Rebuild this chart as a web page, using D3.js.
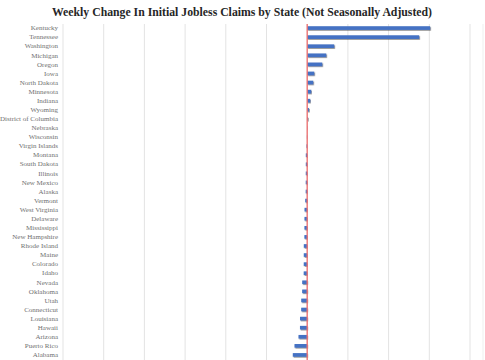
<!DOCTYPE html>
<html><head><meta charset="utf-8">
<script src="https://cdn.jsdelivr.net/npm/d3@7"></script>
<style>html,body{margin:0;padding:0;background:#fff;}svg{display:block;}</style>
</head><body>
<svg id="c" width="485" height="360"></svg>
<script>
const states = ["Kentucky","Tennessee","Washington","Michigan","Oregon","Iowa","North Dakota","Minnesota","Indiana","Wyoming","District of Columbia","Nebraska","Wisconsin","Virgin Islands","Montana","South Dakota","Illinois","New Mexico","Alaska","Vermont","West Virginia","Delaware","Mississippi","New Hampshire","Rhode Island","Maine","Colorado","Idaho","Nevada","Oklahoma","Utah","Connecticut","Louisiana","Hawaii","Arizona","Puerto Rico","Alabama"];
const changes = [30200,27500,6630,4670,3690,1720,1470,980,740,420,200,70,-70,-170,-340,-340,-350,-360,-370,-490,-660,-670,-680,-690,-835,-840,-850,-860,-1230,-1240,-1470,-1480,-1770,-1780,-2140,-3120,-3540];
const tickValues = [-60000,-50000,-40000,-30000,-20000,-10000,0,10000,20000,30000,40000];
const title = "Weekly Change In Initial Jobless Claims by State (Not Seasonally Adjusted)";

const svg = d3.select("#c");
const defs = svg.append("defs");
const f = defs.append("filter").attr("id","sh").attr("x","-20%").attr("y","-50%").attr("width","140%").attr("height","250%");
f.append("feDropShadow").attr("dx",0.8).attr("dy",0.8).attr("stdDeviation",0.5).attr("flood-color","#333").attr("flood-opacity",0.6);

const x = d3.scaleLinear().domain([-60000,40000]).range([63,470]);
const y = d3.scaleBand().domain(states).range([23.5, 23.5+37*9.08]).paddingInner(0.6).paddingOuter(0.3);

const plotTop = 24, plotBottom = 360;
svg.append("g").selectAll("line").data(tickValues).join("line")
  .attr("x1",d=>x(d)).attr("x2",d=>x(d)).attr("y1",plotTop).attr("y2",plotBottom)
  .attr("stroke","#e3e3e3").attr("stroke-width",1);
svg.append("line").attr("x1",483).attr("x2",483).attr("y1",plotTop).attr("y2",plotBottom).attr("stroke","#efefef");

svg.append("g").selectAll("rect").data(states).join("rect")
  .attr("x",(d,i)=>x(Math.min(0,changes[i])))
  .attr("width",(d,i)=>Math.max(0.3,Math.abs(x(changes[i])-x(0))))
  .attr("y",d=>y(d)).attr("height",y.bandwidth())
  .attr("fill","#4472C4").attr("filter","url(#sh)");

svg.append("line").attr("x1",x(0)).attr("x2",x(0)).attr("y1",plotTop).attr("y2",plotBottom)
  .attr("stroke","#f07070").attr("stroke-width",1.3);

const yAxis = d3.axisLeft(y).tickSize(0).tickPadding(0);
const ga = svg.append("g").attr("transform","translate(58,0)").call(yAxis);
ga.select(".domain").remove();
ga.selectAll("text").attr("font-family","Liberation Serif, serif").attr("font-size",7).attr("fill","#707070");

svg.append("text").attr("x",242).attr("y",16).attr("text-anchor","middle")
  .attr("font-family","Liberation Serif, serif").attr("font-weight","bold").attr("font-size",11.5)
  .attr("fill","#262626").attr("textLength",380).attr("lengthAdjust","spacingAndGlyphs").text(title);
</script>
</body></html>
